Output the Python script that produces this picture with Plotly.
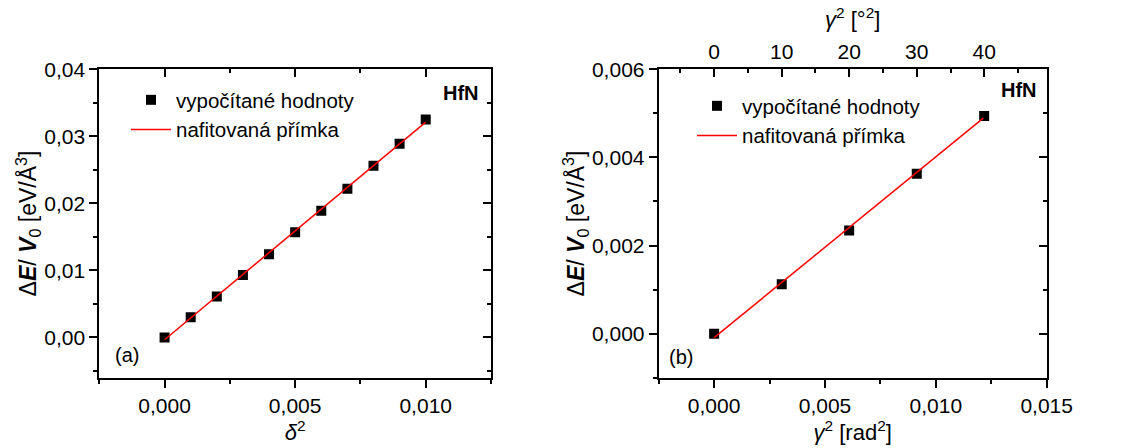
import plotly.graph_objects as go

# ---- data ----
delta2 = [0.000, 0.001, 0.002, 0.003, 0.004, 0.005, 0.006, 0.007, 0.008, 0.009, 0.010]
dE_a = [0.0000, 0.0030, 0.0061, 0.0093, 0.0124, 0.0157, 0.0189, 0.0222, 0.0256, 0.0289, 0.0325]
fit_a_x = [0.000, 0.010]
fit_a_y = [-0.00034, 0.03212]

gamma2_rad = [0.00000, 0.00305, 0.00609, 0.00914, 0.01218]
dE_b = [0.00000, 0.00112, 0.00234, 0.00363, 0.00494]
fit_b_x = [0.000, 0.01214]
fit_b_y = [-0.00009, 0.00489]

DEG2_PER_RAD2 = (180 / 3.141592653589793) ** 2
xb_range = [-0.0025, 0.015]
top_range = [xb_range[0] * DEG2_PER_RAD2, xb_range[1] * DEG2_PER_RAD2]

W, H = 1122, 448
FONT = "Arial, Liberation Sans, sans-serif"

fig = go.Figure()

# left panel
fig.add_trace(go.Scatter(x=delta2, y=dE_a, mode="markers", name="vypočítané hodnoty",
                         marker=dict(symbol="square", size=10, color="black"),
                         xaxis="x", yaxis="y", legend="legend"))
fig.add_trace(go.Scatter(x=fit_a_x, y=fit_a_y, mode="lines", name="nafitovaná přímka",
                         line=dict(color="red", width=1.5),
                         xaxis="x", yaxis="y", legend="legend"))
# right panel
fig.add_trace(go.Scatter(x=gamma2_rad, y=dE_b, mode="markers", name="vypočítané hodnoty",
                         marker=dict(symbol="square", size=10, color="black"),
                         xaxis="x2", yaxis="y2", legend="legend2"))
fig.add_trace(go.Scatter(x=fit_b_x, y=fit_b_y, mode="lines", name="nafitovaná přímka",
                         line=dict(color="red", width=1.5),
                         xaxis="x2", yaxis="y2", legend="legend2"))

# invisible traces to keep the mirror axes alive
fig.add_trace(go.Scatter(x=[None], y=[None], xaxis="x3", yaxis="y3", showlegend=False, hoverinfo="skip"))
fig.add_trace(go.Scatter(x=[None], y=[None], xaxis="x4", yaxis="y4", showlegend=False, hoverinfo="skip"))

dom_y = [1 - 377.7 / H, 1 - 69.3 / H]
dom_xa = [99.3 / W, 491.0 / W]
dom_xb = [658.7 / W, 1046.7 / W]

tickfont = dict(family=FONT, size=21, color="black")
xtitlefont = dict(family=FONT, size=22, color="black")
ytitlefont = dict(family=FONT, size=23, color="black")

def ax(**kw):
    base = dict(showline=True, linewidth=2, linecolor="black", showgrid=False, zeroline=False,
                automargin=False, ticklen=8, tickwidth=1.5, tickcolor="black", tickfont=tickfont)
    base.update(kw)
    return base

xa_range = [-0.0025, 0.0125]
ya_range = [-0.006, 0.04]
yb_range = [-0.001, 0.006]

ytitle = "Δ<b><i>E</i></b>/ <b><i>V</i></b><sub>0</sub> [eV/Å<sup>3</sup>]"

fig.update_layout(
    template="none",
    width=W, height=H, margin=dict(l=0, r=0, t=0, b=0, pad=0), autosize=False,
    paper_bgcolor="white", plot_bgcolor="white",
    separators=", ",
    font=dict(family=FONT, color="black"),
    xaxis=ax(domain=dom_xa, anchor="y", range=xa_range, tick0=0, dtick=0.005, tickformat=".3f",
             ticks="outside", minor=dict(dtick=0.0025, ticks="outside", ticklen=4, tickwidth=1.5, tickcolor="black"),
             title=dict(text="<i>δ</i><sup>2</sup>", font=xtitlefont, standoff=5)),
    yaxis=ax(domain=dom_y, anchor="x", range=ya_range, tick0=0, dtick=0.01, tickformat=".2f",
             ticks="outside", minor=dict(dtick=0.005, ticks="outside", ticklen=4, tickwidth=1.5, tickcolor="black"),
             title=dict(text=ytitle, font=ytitlefont, standoff=0)),
    xaxis3=ax(overlaying="x", anchor="y", side="top", range=xa_range, tick0=0, dtick=0.005,
              ticks="inside", showticklabels=False,
              minor=dict(dtick=0.0025, ticks="inside", ticklen=4, tickwidth=1.5, tickcolor="black")),
    yaxis3=ax(overlaying="y", anchor="x", side="right", range=ya_range, tick0=0, dtick=0.01,
              ticks="inside", showticklabels=False,
              minor=dict(dtick=0.005, ticks="inside", ticklen=4, tickwidth=1.5, tickcolor="black")),
    xaxis2=ax(domain=dom_xb, anchor="y2", range=xb_range, tick0=0, dtick=0.005, tickformat=".3f",
              ticks="outside", minor=dict(dtick=0.0025, ticks="outside", ticklen=4, tickwidth=1.5, tickcolor="black"),
              title=dict(text="<i>γ</i><sup>2</sup> [rad<sup>2</sup>]", font=xtitlefont, standoff=5)),
    yaxis2=ax(domain=dom_y, anchor="x2", range=yb_range, tick0=0, dtick=0.002, tickformat=".3f",
              ticks="outside", minor=dict(dtick=0.001, ticks="outside", ticklen=4, tickwidth=1.5, tickcolor="black"),
              title=dict(text=ytitle, font=ytitlefont, standoff=1)),
    xaxis4=ax(overlaying="x2", anchor="y2", side="top", range=top_range, tick0=0, dtick=10,
              ticks="inside", showticklabels=True, tickformat="d",
              minor=dict(dtick=5, ticks="inside", ticklen=4, tickwidth=1.5, tickcolor="black"),
              title=dict(text="<i>γ</i><sup>2</sup> [°<sup>2</sup>]", font=xtitlefont, standoff=6)),
    yaxis4=ax(overlaying="y2", anchor="x2", side="right", range=yb_range, tick0=0, dtick=0.002,
              ticks="inside", showticklabels=False,
              minor=dict(dtick=0.001, ticks="inside", ticklen=4, tickwidth=1.5, tickcolor="black")),
    legend=dict(x=126 / W, y=1 - 80 / H, xanchor="left", yanchor="top", bgcolor="rgba(0,0,0,0)",
                font=dict(family=FONT, size=20.5, color="black"), tracegroupgap=0, itemwidth=40),
    legend2=dict(x=692 / W, y=1 - 86 / H, xanchor="left", yanchor="top", bgcolor="rgba(0,0,0,0)",
                 font=dict(family=FONT, size=20.5, color="black"), tracegroupgap=0, itemwidth=40),
    annotations=[
        dict(text="<b>HfN</b>", x=481 / W, y=1 - 93 / H, xref="paper", yref="paper",
             xanchor="right", yanchor="middle", showarrow=False, font=dict(family=FONT, size=20, color="black")),
        dict(text="<b>HfN</b>", x=1039 / W, y=1 - 90 / H, xref="paper", yref="paper",
             xanchor="right", yanchor="middle", showarrow=False, font=dict(family=FONT, size=20, color="black")),
        dict(text="(a)", x=113 / W, y=1 - 355 / H, xref="paper", yref="paper",
             xanchor="left", yanchor="middle", showarrow=False, font=dict(family=FONT, size=20, color="black")),
        dict(text="(b)", x=667 / W, y=1 - 357 / H, xref="paper", yref="paper",
             xanchor="left", yanchor="middle", showarrow=False, font=dict(family=FONT, size=20, color="black")),
    ],
)

fig.write_html("out.html")
